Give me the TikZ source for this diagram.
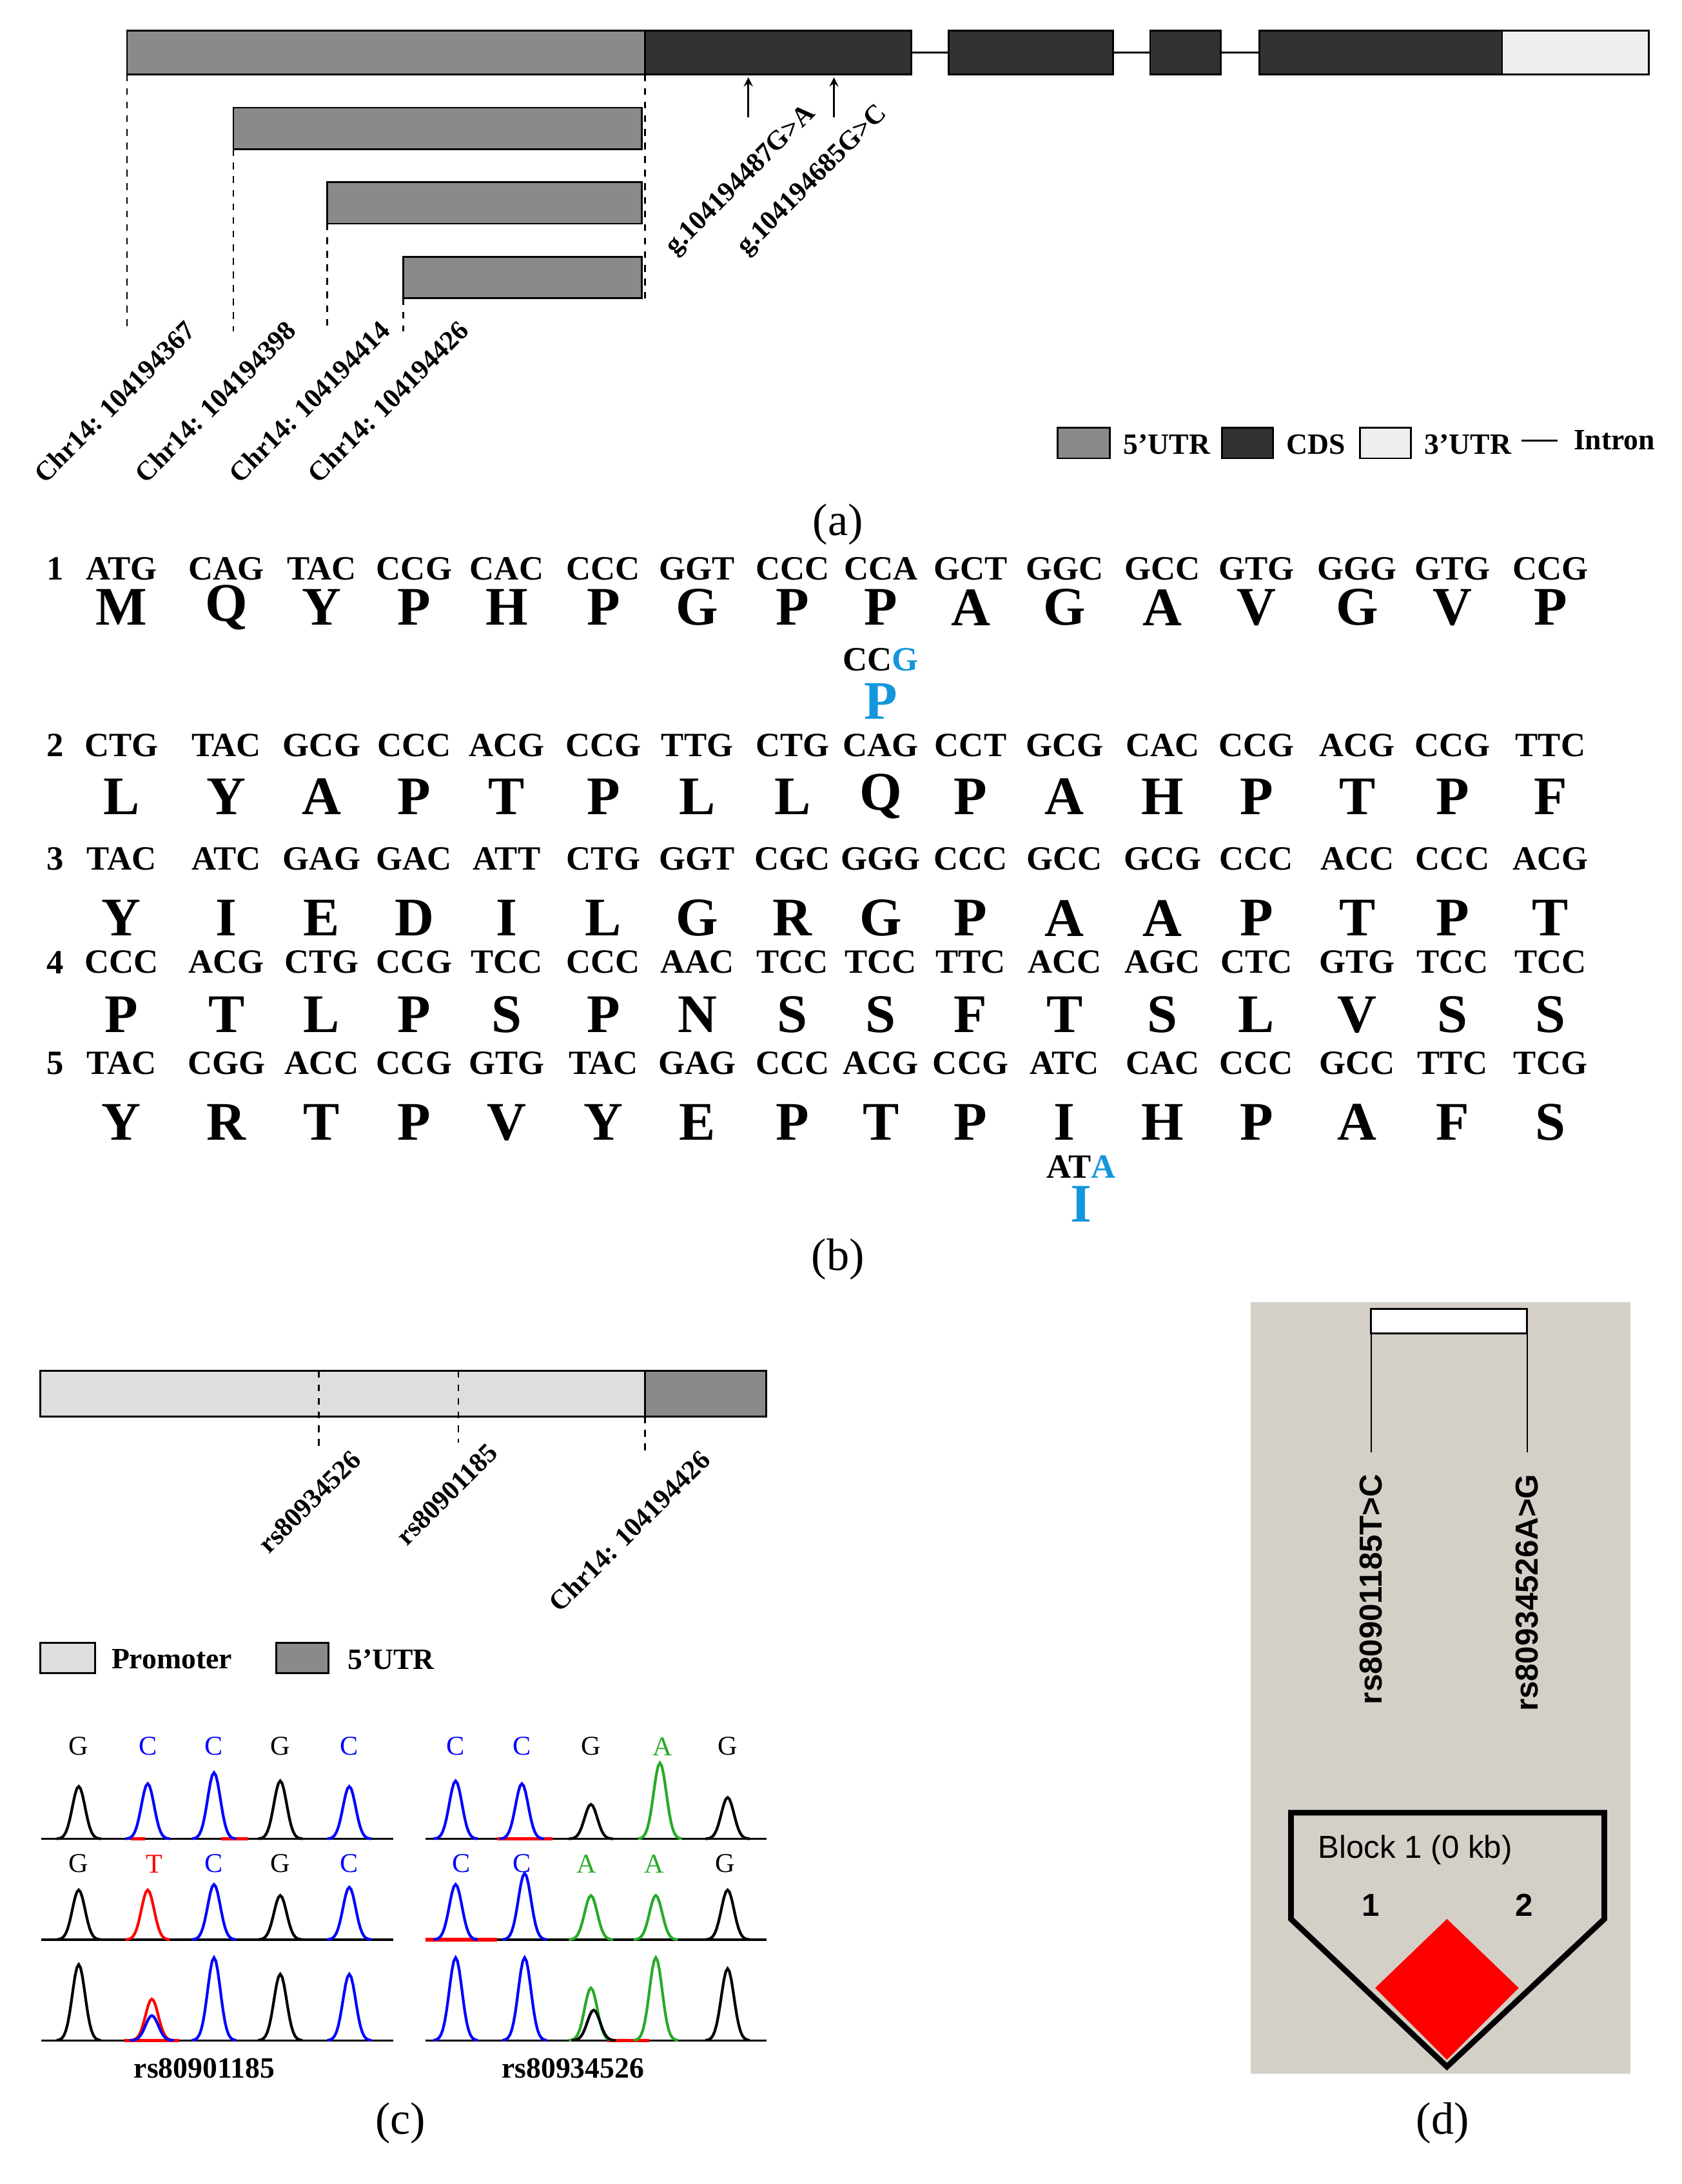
\documentclass[tikz,border=0pt]{standalone}
\usepackage{fontspec}
\setmainfont{Liberation Serif}
\newfontfamily\sansf{Liberation Sans}
\definecolor{utr5}{RGB}{138,138,138}
\definecolor{cds}{RGB}{50,50,50}
\definecolor{utr3}{RGB}{238,238,238}
\definecolor{prom}{RGB}{222,222,222}
\definecolor{bl}{RGB}{20,150,220}
\definecolor{hvbg}{RGB}{212,208,200}
\definecolor{cgreen}{RGB}{40,170,40}
\newcommand{\pk}[4]{\draw[#4,line width=1.2pt] plot[domain=-16:16,samples=25] ({#1+\x},{#2-#3*exp(-(\x/6.5)^2)});}
\begin{document}
\begin{tikzpicture}[x=0.02141cm,y=-0.02141cm,
 box/.style={draw=black,line width=0.8pt},
 dl/.style={dashed,line width=0.8pt},
 cod/.style={font=\bfseries\fontsize{15}{17}\selectfont},
 aa/.style={font=\bfseries\fontsize{24}{26}\selectfont},
 lab/.style={font=\bfseries\fontsize{13}{15}\selectfont},
 rl/.style={font=\bfseries\fontsize{12}{14}\selectfont,rotate=45,anchor=east},
 pl/.style={font=\fontsize{20}{22}\selectfont}]
\useasboundingbox (0,0) rectangle (1218,1582);
% ---------- (a)
\draw[line width=0.8pt] (660,38)--(912,38);
\draw[box,fill=utr5] (92,22) rectangle (467,54);
\draw[box,fill=cds] (467,22) rectangle (660,54);
\draw[box,fill=cds] (687,22) rectangle (806,54);
\draw[box,fill=cds] (833,22) rectangle (884,54);
\draw[box,fill=cds] (912,22) rectangle (1088,54);
\draw[box,fill=utr3] (1088,22) rectangle (1194,54);
\draw[box,fill=utr5] (169,78) rectangle (465,108);
\draw[box,fill=utr5] (237,132) rectangle (465,162);
\draw[box,fill=utr5] (292,186) rectangle (465,216);
\draw[dl] (92,54)--(92,240); \draw[dl] (169,108)--(169,240);
\draw[dl] (237,162)--(237,240); \draw[dl] (292,216)--(292,240);
\draw[dl] (467,54)--(467,216);
\node[rl] (l1) at (142,232) {Chr14: 104194367};
\node[rl] (l2) at (215,232) {Chr14: 104194398};
\node[rl] (l3) at (283,232) {Chr14: 104194414};
\node[rl] (l4) at (340,232) {Chr14: 104194426};
\draw[-stealth,line width=0.8pt] (542,85)--(542,56);
\draw[-stealth,line width=0.8pt] (604,85)--(604,56);
\node[rl] (g1) at (592,76) {g.104194487G>A};
\node[rl] (g2) at (644,76) {g.104194685G>C};
\draw[box,fill=utr5] (766,310) rectangle (804,332); \node[lab,anchor=west] at (808,322) {5'UTR};
\draw[box,fill=cds] (885,310) rectangle (922,332); \node[lab,anchor=west] at (926,322) {CDS};
\draw[box,fill=utr3] (985,310) rectangle (1022,332); \node[lab,anchor=west] at (1026,322) {3'UTR};
\draw[line width=0.8pt] (1102,319)--(1128,319); \node[lab,anchor=west] at (1134,319) {Intron};
\node[pl] at (607,380) {(a)};
% ---------- (b)
\def\xs{{88,164,233,300,367,437,505,574,638,703,771,842,910,983,1052,1123}}
\newcommand{\crow}[4]{%
 \node[cod] at (40,#1) {#3};
 \foreach \c [count=\i from 0] in {#4} {\pgfmathsetmacro\xx{\xs[\i]}\node[cod] at (\xx,#1) {\c};}
}
\newcommand{\arow}[2]{%
 \foreach \c [count=\i from 0] in {#2} {\pgfmathsetmacro\xx{\xs[\i]}\node[aa] at (\xx,#1) {\c};}
}
\crow{412}{}{1}{ATG,CAG,TAC,CCG,CAC,CCC,GGT,CCC,CCA,GCT,GGC,GCC,GTG,GGG,GTG,CCG}
\arow{440}{M,Q,Y,P,H,P,G,P,P,A,G,A,V,G,V,P}
\node[cod] at (638,478) {CC\textcolor{bl}{G}};
\node[aa,text=bl] at (638,508) {P};
\crow{540}{}{2}{CTG,TAC,GCG,CCC,ACG,CCG,TTG,CTG,CAG,CCT,GCG,CAC,CCG,ACG,CCG,TTC}
\arow{577}{L,Y,A,P,T,P,L,L,Q,P,A,H,P,T,P,F}
\crow{622}{}{3}{TAC,ATC,GAG,GAC,ATT,CTG,GGT,CGC,GGG,CCC,GCC,GCG,CCC,ACC,CCC,ACG}
\arow{665}{Y,I,E,D,I,L,G,R,G,P,A,A,P,T,P,T}
\crow{697}{}{4}{CCC,ACG,CTG,CCG,TCC,CCC,AAC,TCC,TCC,TTC,ACC,AGC,CTC,GTG,TCC,TCC}
\arow{735}{P,T,L,P,S,P,N,S,S,F,T,S,L,V,S,S}
\crow{770}{}{5}{TAC,CGG,ACC,CCG,GTG,TAC,GAG,CCC,ACG,CCG,ATC,CAC,CCC,GCC,TTC,TCG}
\arow{813}{Y,R,T,P,V,Y,E,P,T,P,I,H,P,A,F,S}
\node[cod] at (783,845) {AT\textcolor{bl}{A}};
\node[aa,text=bl] at (783,872) {I};
\node[pl] at (607,912) {(b)};
% ---------- (c)
\draw[box,fill=prom] (29,993) rectangle (467,1026);
\draw[box,fill=utr5] (467,993) rectangle (555,1026);
\draw[dl] (231,993)--(231,1050); \draw[dl] (332,993)--(332,1045); \draw[dl] (467,1026)--(467,1055);
\node[rl] (r1) at (262,1050) {rs80934526};
\node[rl] (r2) at (361,1045) {rs80901185};
\node[rl] (r3) at (515,1050) {Chr14: 104194426};
\draw[box,fill=prom] (29,1190) rectangle (69,1212); \node[lab,anchor=west] at (75,1202) {Promoter};
\draw[box,fill=utr5] (200,1190) rectangle (238,1212); \node[lab,anchor=west] at (246,1202) {5'UTR};
% chromatograms
\foreach \b in {1332,1405,1478}{\draw[line width=1pt] (30,\b)--(285,\b); \draw[line width=1pt] (308,\b)--(555,\b);}
\draw[red,line width=1.5pt] (160,1332)--(180,1332);\draw[red,line width=1.5pt] (95,1332)--(105,1332);
\draw[red,line width=1.5pt] (360,1332)--(400,1332);\draw[red,line width=1.5pt] (308,1405)--(360,1405);
\draw[red,line width=1.5pt] (90,1478)--(130,1478);\draw[red,line width=1.5pt] (440,1478)--(470,1478);
\foreach \p/\h/\c in {57/38/black,107/40/blue,155/48/blue,203/42/black,253/38/blue}{\pk{\p}{1332}{\h}{\c}}
\foreach \p/\h/\c in {57/36/black,107/36/red,155/40/blue,203/32/black,253/38/blue}{\pk{\p}{1405}{\h}{\c}}
\foreach \p/\h/\c in {57/55/black,110/30/red,110/18/blue,155/60/blue,203/48/black,253/48/blue}{\pk{\p}{1478}{\h}{\c}}
\foreach \p/\h/\c in {330/42/blue,378/40/blue,428/25/black,478/55/cgreen,527/30/black}{\pk{\p}{1332}{\h}{\c}}
\foreach \p/\h/\c in {330/40/blue,380/48/blue,428/32/cgreen,475/32/cgreen,527/36/black}{\pk{\p}{1405}{\h}{\c}}
\foreach \p/\h/\c in {330/60/blue,380/60/blue,428/38/cgreen,430/22/black,475/60/cgreen,527/52/black}{\pk{\p}{1478}{\h}{\c}}
\foreach \p/\t/\c in {57/G/black,107/C/blue,155/C/blue,203/G/black,253/C/blue,330/C/blue,378/C/blue,428/G/black,480/A/cgreen,527/G/black}{\node[font=\fontsize{12}{14}\selectfont,text=\c] at (\p,1265) {\t};}
\foreach \p/\t/\c in {57/G/black,112/T/red,155/C/blue,203/G/black,253/C/blue,334/C/blue,378/C/blue,425/A/cgreen,474/A/cgreen,525/G/black}{\node[font=\fontsize{12}{14}\selectfont,text=\c] at (\p,1350) {\t};}
\node[lab] at (148,1498) {rs80901185};
\node[lab] at (415,1498) {rs80934526};
\node[pl] at (290,1538) {(c)};
% ---------- (d)
\fill[hvbg] (906,943) rectangle (1181,1502);
\draw[fill=white,line width=0.8pt] (993,948) rectangle (1106,966);
\draw[line width=0.6pt] (993,966)--(993,1052);
\draw[line width=0.6pt] (1106,966)--(1106,1052);
\node[font=\sansf\bfseries\fontsize{14}{16}\selectfont,rotate=90,anchor=east] (s1) at (993,1062) {rs80901185T>C};
\node[font=\sansf\bfseries\fontsize{14}{16}\selectfont,rotate=90,anchor=east] (s2) at (1106,1062) {rs80934526A>G};
\fill[red] (1048,1390)--(1100,1440)--(1048,1492)--(996,1440)--cycle;
\draw[line width=2.5pt,line join=miter] (935,1313)--(1162,1313)--(1162,1390)--(1048,1497)--(935,1390)--cycle;
\node[font=\sansf\fontsize{14}{16}\selectfont] at (1025,1340) {Block 1 (0 kb)};
\node[font=\sansf\bfseries\fontsize{14}{16}\selectfont] at (993,1380) {1};
\node[font=\sansf\bfseries\fontsize{14}{16}\selectfont] at (1104,1380) {2};
\node[pl] at (1045,1538) {(d)};
\end{tikzpicture}
\end{document}
